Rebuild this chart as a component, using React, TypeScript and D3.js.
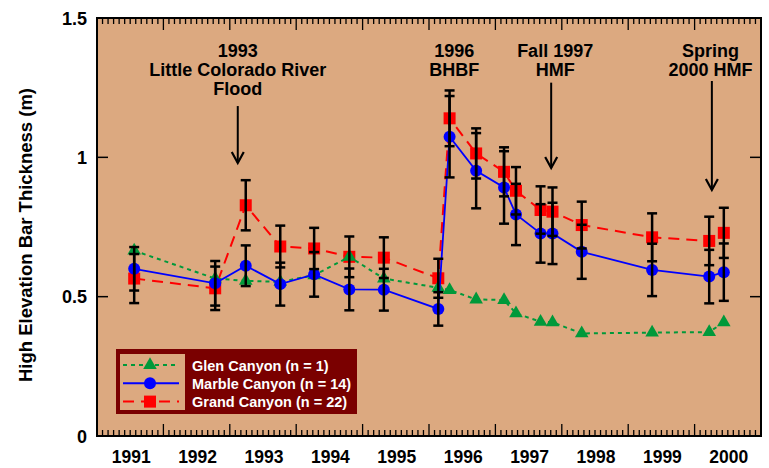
import React, { useRef, useEffect } from "react";
import * as d3 from "d3";

// survey dates (decimal years)
const years = [1991.56, 1992.78, 1993.24, 1993.76, 1994.27, 1994.8, 1995.32, 1996.14, 1996.31, 1996.71, 1997.13, 1997.31, 1997.68, 1997.86, 1998.3, 1999.36, 2000.22, 2000.44];

const glen = [0.665, 0.565, 0.557, 0.553, 0.577, 0.643, 0.565, 0.532, 0.524, 0.49, 0.488, 0.44, 0.41, 0.408, 0.368, 0.371, 0.373, 0.408];
const marble = [0.6, 0.548, 0.611, 0.545, 0.58, 0.526, 0.525, 0.456, 1.074, 0.952, 0.892, 0.795, 0.727, 0.727, 0.661, 0.596, 0.572, 0.588];
const marbleErr = [0.078, 0.08, 0.073, 0.077, 0.08, 0.075, 0.075, 0.06, 0.146, 0.135, 0.13, 0.11, 0.105, 0.11, 0.097, 0.094, 0.096, 0.103];
const grand = [0.565, 0.53, 0.828, 0.68, 0.673, 0.643, 0.64, 0.566, 1.14, 1.014, 0.948, 0.88, 0.811, 0.805, 0.757, 0.713, 0.7, 0.729];
const grandErr = [0.088, 0.078, 0.09, 0.075, 0.074, 0.073, 0.073, 0.07, 0.1, 0.09, 0.088, 0.085, 0.085, 0.087, 0.084, 0.086, 0.087, 0.09];

const yearLabels = ["1991", "1992", "1993", "1994", "1995", "1996", "1997", "1998", "1999", "2000"];
const yTicks = [0, 0.5, 1, 1.5];

const annotations = [
  { lines: ["1993", "Little Colorado River", "Flood"], tx: 1993.12, ax: 1993.12, from: 1.184, to: 0.98 },
  { lines: ["1996", "BHBF"], tx: 1996.38, ax: null, from: 0, to: 0 },
  { lines: ["Fall 1997", "HMF"], tx: 1997.9, ax: 1997.84, from: 1.268, to: 0.962 },
  { lines: ["Spring", "2000 HMF"], tx: 2000.24, ax: 2000.26, from: 1.274, to: 0.883 },
];

const legendItems = [
  { label: "Glen Canyon (n = 1)", color: "#00993a", dash: "4,4", shape: "tri" },
  { label: "Marble Canyon (n = 14)", color: "#0000ff", dash: null, shape: "circle" },
  { label: "Grand Canyon (n = 22)", color: "#ff0000", dash: "11,7", shape: "square" },
];

const FONT = "'Liberation Sans', Arial, sans-serif";
const TAN = "#dca980";

const Chart = () => {
  const ref = useRef(null);

  useEffect(() => {
    const svg = d3.select(ref.current);
    svg.selectAll("*").remove();

    const width = 769, height = 468;
    const margin = { top: 18, right: 8, bottom: 32, left: 97 };

    const x = d3.scaleLinear().domain([1991, 2001]).range([margin.left, width - margin.right]);
    const y = d3.scaleLinear().domain([0, 1.5]).range([height - margin.bottom, margin.top]);
    const [x0, x1] = x.range();
    const [y0, y1] = y.range();

    svg.append("rect").attr("width", width).attr("height", height).attr("fill", "#fff");
    svg.append("rect")
      .attr("x", x0).attr("y", y1).attr("width", x1 - x0).attr("height", y0 - y1)
      .attr("fill", TAN);

    // ticks: months minor, years major (top + bottom, inward)
    const months = d3.range(1991, 2001 + 1e-9, 1 / 12);
    const g = svg.append("g").attr("stroke", "#000");
    months.forEach((m, i) => {
      const major = i % 12 === 0;
      const len = major ? 12 : 6;
      g.append("line").attr("x1", x(m)).attr("x2", x(m)).attr("y1", y0).attr("y2", y0 - len).attr("stroke-width", 1.3);
      g.append("line").attr("x1", x(m)).attr("x2", x(m)).attr("y1", y1).attr("y2", y1 + len).attr("stroke-width", 1.3);
    });
    yTicks.forEach((t) => {
      g.append("line").attr("x1", x0).attr("x2", x0 + 11).attr("y1", y(t)).attr("y2", y(t)).attr("stroke-width", 1.5);
      g.append("line").attr("x1", x1).attr("x2", x1 - 11).attr("y1", y(t)).attr("y2", y(t)).attr("stroke-width", 1.5);
    });

    svg.append("g")
      .selectAll("text").data(yearLabels).join("text")
      .attr("x", (d) => x(+d + 0.5) + 1).attr("y", 463)
      .attr("text-anchor", "middle")
      .attr("font-family", FONT).attr("font-weight", "bold").attr("font-size", 17.5)
      .text((d) => d);

    svg.append("g")
      .selectAll("text").data(yTicks).join("text")
      .attr("x", 87).attr("y", (d) => y(d) + 6.5)
      .attr("text-anchor", "end")
      .attr("font-family", FONT).attr("font-weight", "bold").attr("font-size", 18)
      .text((d) => d3.format("")(d));

    svg.append("text")
      .attr("transform", `translate(32,${(y0 + y1) / 2 + 8}) rotate(-90)`)
      .attr("text-anchor", "middle")
      .attr("font-family", FONT).attr("font-weight", "bold").attr("font-size", 18.5)
      .text("High Elevation Bar Thickness (m)");

    // series
    const pts = (vals) => years.map((yr, i) => [yr, vals[i]]);
    const line = d3.line().x((d) => x(d[0])).y((d) => y(d[1]));
    const tri = d3.symbol().type(d3.symbolTriangle).size(80);

    const plot = svg.append("g");

    plot.append("path").datum(pts(grand))
      .attr("fill", "none").attr("stroke", "#ff0000").attr("stroke-width", 2)
      .attr("stroke-dasharray", "11,7").attr("d", line);
    plot.selectAll(".sq").data(pts(grand)).join("rect")
      .attr("x", (d) => x(d[0]) - 6).attr("y", (d) => y(d[1]) - 6)
      .attr("width", 12).attr("height", 12).attr("fill", "#ff0000");

    plot.append("path").datum(pts(glen))
      .attr("fill", "none").attr("stroke", "#00993a").attr("stroke-width", 2)
      .attr("stroke-dasharray", "4,4").attr("d", line);
    plot.selectAll(".tri").data(pts(glen)).join("path")
      .attr("transform", (d) => `translate(${x(d[0])},${y(d[1])})`)
      .attr("d", tri).attr("fill", "#00993a");

    plot.append("path").datum(pts(marble))
      .attr("fill", "none").attr("stroke", "#0000ff").attr("stroke-width", 1.8).attr("d", line);
    plot.selectAll(".dot").data(pts(marble)).join("circle")
      .attr("cx", (d) => x(d[0])).attr("cy", (d) => y(d[1])).attr("r", 6).attr("fill", "#0000ff");

    // error bars
    const eb = svg.append("g").attr("stroke", "#000").attr("stroke-width", 2.5);
    const bars = [
      ...years.map((yr, i) => ({ yr, v: marble[i], e: marbleErr[i] })),
      ...years.map((yr, i) => ({ yr, v: grand[i], e: grandErr[i] })),
    ];
    bars.forEach((b) => {
      const cx = x(b.yr);
      eb.append("line").attr("x1", cx).attr("x2", cx).attr("y1", y(b.v - b.e)).attr("y2", y(b.v + b.e));
      [b.v - b.e, b.v + b.e].forEach((t) => {
        eb.append("line").attr("x1", cx - 5).attr("x2", cx + 5).attr("y1", y(t)).attr("y2", y(t));
      });
    });

    // annotations
    annotations.forEach((a) => {
      const t = svg.append("text")
        .attr("text-anchor", "middle")
        .attr("font-family", FONT).attr("font-weight", "bold").attr("font-size", 18);
      a.lines.forEach((l, i) => {
        t.append("tspan").attr("x", x(a.tx)).attr("y", 56.5 + i * 19).text(l);
      });
      if (a.ax !== null) {
        const ax = x(a.ax), ya = y(a.from), yb = y(a.to);
        svg.append("line").attr("x1", ax).attr("x2", ax).attr("y1", ya).attr("y2", yb)
          .attr("stroke", "#000").attr("stroke-width", 2);
        svg.append("path")
          .attr("d", `M${ax - 6},${yb - 11}L${ax},${yb}L${ax + 6},${yb - 11}`)
          .attr("fill", "none").attr("stroke", "#000").attr("stroke-width", 2.2);
      }
    });

    // legend
    const lg = svg.append("g");
    lg.append("rect").attr("x", 116).attr("y", 349).attr("width", 241).attr("height", 65).attr("fill", "#7a0000");
    lg.append("rect").attr("x", 120).attr("y", 354).attr("width", 65).attr("height", 56).attr("fill", TAN);
    legendItems.forEach((d, i) => {
      const cy = 365 + i * 18.3;
      lg.append("line").attr("x1", 123).attr("x2", 179).attr("y1", cy).attr("y2", cy)
        .attr("stroke", d.color).attr("stroke-width", 2).attr("stroke-dasharray", d.dash);
      if (d.shape === "tri") {
        lg.append("path").attr("transform", `translate(150,${cy})`).attr("d", tri).attr("fill", d.color);
      } else if (d.shape === "circle") {
        lg.append("circle").attr("cx", 150).attr("cy", cy).attr("r", 6).attr("fill", d.color);
      } else {
        lg.append("rect").attr("x", 144).attr("y", cy - 6).attr("width", 12).attr("height", 12).attr("fill", d.color);
      }
      lg.append("text").attr("x", 192).attr("y", cy + 5.5)
        .attr("font-family", FONT).attr("font-weight", "bold").attr("font-size", 14.5)
        .attr("fill", "#fff").text(d.label);
    });

    // frame
    svg.append("rect")
      .attr("x", x0).attr("y", y1).attr("width", x1 - x0).attr("height", y0 - y1)
      .attr("fill", "none").attr("stroke", "#000").attr("stroke-width", 2);
  }, []);

  return (
    <svg ref={ref} width={769} height={468}
      style={{ position: "absolute", left: 0, top: 0, display: "block" }} />
  );
};

export default function App() {
  return <Chart />;
}
